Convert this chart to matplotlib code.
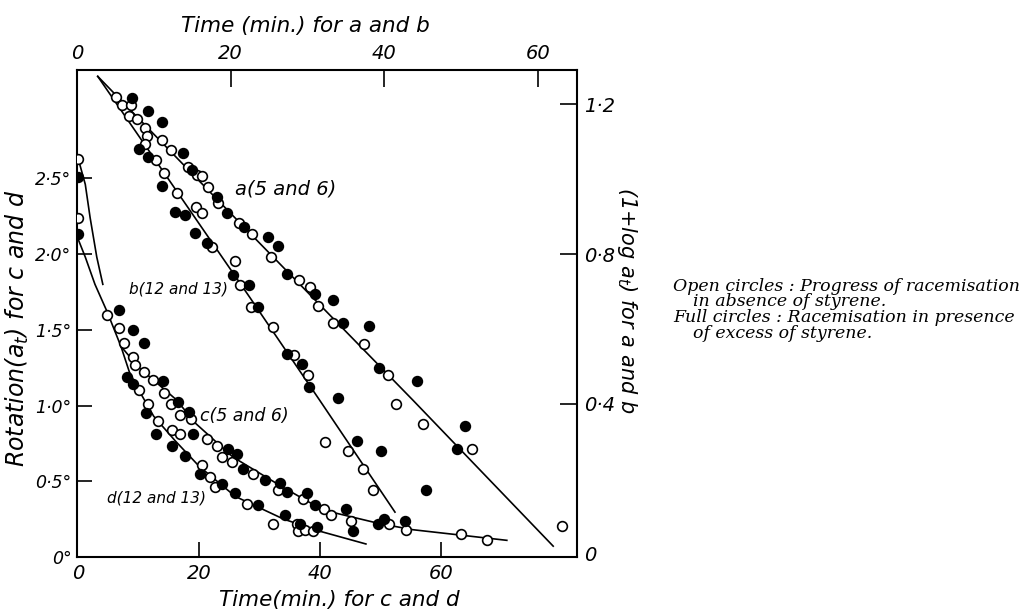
import numpy as np
import matplotlib.pyplot as plt

# curves a and b: time (min) on top axis, (1 + log a_t) on right axis
a_open_t = [5.1, 5.9, 7.0, 6.8, 7.8, 8.9, 9.1, 11.1, 12.2, 14.5, 15.6, 16.3, 17.1, 18.4, 21.1, 22.8,
            25.3, 28.9, 30.3, 31.4, 33.3, 37.4, 40.5, 41.5, 45.1, 51.4, 63.2]
a_open_v = [1.219, 1.198, 1.198, 1.168, 1.160, 1.136, 1.115, 1.104, 1.078, 1.032, 1.011, 1.008, 0.979, 0.936, 0.882, 0.853,
            0.791, 0.730, 0.711, 0.660, 0.615, 0.559, 0.476, 0.398, 0.345, 0.278, 0.072]
a_full_t = [7.2, 9.2, 11.1, 13.8, 15.0, 18.2, 19.5, 21.7, 24.9, 26.2, 27.3, 31.0, 33.3, 34.6, 38.0, 39.3,
            44.3, 50.5, 49.5]
a_full_v = [1.217, 1.182, 1.152, 1.070, 1.024, 0.952, 0.909, 0.872, 0.845, 0.821, 0.746, 0.693, 0.676, 0.615, 0.607, 0.495,
            0.460, 0.340, 0.278]
b_open_t = [8.9, 10.3, 11.3, 13.0, 15.5, 16.3, 17.6, 20.6, 21.2, 22.7, 25.5, 28.3, 30.1, 32.3, 35.3, 37.2, 38.5]
b_open_v = [1.094, 1.051, 1.016, 0.963, 0.925, 0.909, 0.818, 0.781, 0.717, 0.658, 0.604, 0.529, 0.476, 0.297, 0.273,
            0.225, 0.168]
b_full_t = [8.1, 9.2, 11.1, 12.8, 14.1, 15.4, 16.9, 20.3, 22.4, 23.6, 27.3, 29.3, 30.2, 34.0, 36.5, 39.6, 45.4]
b_full_v = [1.080, 1.059, 0.981, 0.912, 0.904, 0.856, 0.829, 0.743, 0.717, 0.658, 0.532, 0.505, 0.444, 0.414, 0.299,
            0.273, 0.168]
a_line_t = [2.7, 22.5, 43.75, 62.0]
a_line_v = [1.275, 0.856, 0.409, 0.019]
b_line_t = [2.7, 9.1, 22.5, 31.6, 41.4]
b_line_v = [1.275, 1.084, 0.684, 0.409, 0.110]

# curves c and d: time (min) on bottom axis, rotation on left axis
c_open_t = [0, 9.1, 9.4, 10.9, 12.4, 14.2, 15.4, 16.9, 18.7, 21.3, 23.0, 23.8, 25.5, 28.9, 33.1, 37.2,
            40.7, 41.8, 45.1, 51.4, 54.2, 63.3, 67.6]
c_open_r = [2.63, 1.32, 1.27, 1.22, 1.17, 1.08, 1.01, 0.94, 0.91, 0.78, 0.73, 0.66, 0.63, 0.55, 0.44, 0.38,
            0.32, 0.28, 0.24, 0.22, 0.18, 0.15, 0.11]
c_full_t = [0, 6.8, 9.1, 10.9, 14.0, 16.5, 18.3, 19.0, 24.8, 26.3, 27.3, 30.9, 33.4, 34.5, 37.9, 39.2,
            44.3, 49.6, 50.6, 54.0]
c_full_r = [2.51, 1.63, 1.50, 1.41, 1.16, 1.02, 0.96, 0.81, 0.71, 0.68, 0.58, 0.51, 0.49, 0.43, 0.42, 0.34,
            0.32, 0.22, 0.25, 0.24]
d_open_t = [0, 4.8, 6.8, 7.6, 10.1, 11.6, 13.2, 15.5, 16.9, 20.5, 21.8, 22.6, 27.9, 32.2, 36.2, 36.4, 37.5, 38.8]
d_open_r = [2.24, 1.60, 1.51, 1.41, 1.10, 1.01, 0.90, 0.84, 0.81, 0.61, 0.53, 0.46, 0.35, 0.22, 0.22, 0.17, 0.18, 0.17]
d_full_t = [0, 8.1, 9.1, 11.2, 12.9, 15.5, 17.7, 20.2, 23.8, 25.9, 29.8, 34.2, 36.7, 39.5, 45.5]
d_full_r = [2.13, 1.19, 1.14, 0.95, 0.81, 0.73, 0.67, 0.55, 0.48, 0.42, 0.34, 0.28, 0.22, 0.20, 0.17]
c0_line_t = [0.3, 1.2, 2.0, 3.1, 4.1]
c0_line_r = [2.59, 2.46, 2.24, 1.98, 1.80]
cd_line_t = [0, 1.2, 2.8, 4.8, 6.3, 7.1]
cd_line_r = [2.10, 1.98, 1.80, 1.62, 1.47, 1.39]
c_line_t = [7.1, 10.1, 16.2, 19.5, 25.6, 33.9, 40.5, 49.9, 55.4, 70.9]
c_line_r = [1.39, 1.25, 1.04, 0.88, 0.66, 0.46, 0.31, 0.22, 0.18, 0.11]
d_line_t = [7.1, 8.5, 10.5, 12.5, 16, 20, 26, 34, 40, 47.6]
d_line_r = [1.39, 1.22, 1.07, 0.93, 0.77, 0.60, 0.40, 0.25, 0.17, 0.086]

cd_ticks = [0, 20, 40, 60]
rot_ticks = [0, 0.5, 1.0, 1.5, 2.0, 2.5]
rot_labels = ['0°', '0·5°', '1·0°', '1·5°', '2·0°', '2·5°']
ab_ticks = [0, 20, 40, 60]
log_ticks = [0, 0.4, 0.8, 1.2]
log_labels = ['0', '0·4', '0·8', '1·2']

hand = dict(family='DejaVu Sans', style='italic')
openm = dict(ls='none', marker='o', ms=7, mfc='white', mec='black', mew=1.2, zorder=3)
fullm = dict(ls='none', marker='o', ms=7, mfc='black', mec='black', mew=1.2, zorder=3)

W, H = 1035, 616
fig = plt.figure(figsize=(W / 100, H / 100), dpi=100)
rect = [77 / W, 1 - 557 / H, 500 / W, 487 / H]

# bottom / left axes for c and d
ax = fig.add_axes(rect)
ax.plot(c0_line_t, c0_line_r, 'k-', lw=1.2)
ax.plot(cd_line_t, cd_line_r, 'k-', lw=1.2)
ax.plot(c_line_t, c_line_r, 'k-', lw=1.2)
ax.plot(d_line_t, d_line_r, 'k-', lw=1.2)
ax.plot(c_open_t, c_open_r, **openm)
ax.plot(c_full_t, c_full_r, **fullm)
ax.plot(d_open_t, d_open_r, **openm)
ax.plot(d_full_t, d_full_r, **fullm)
ax.set_xlim(-0.17, 82.5)
ax.set_ylim(0, 3.215)
ax.set_xticks(cd_ticks)
ax.set_xticklabels([str(v) for v in cd_ticks], **hand)
ax.set_yticks(rot_ticks)
ax.set_yticklabels(rot_labels, **hand)
ax.tick_params(direction='in', length=11, width=1.2, labelsize=14, pad=5)
ax.tick_params(axis='y', labelsize=12.5, pad=4)
ax.xaxis.get_major_ticks()[0].tick1line.set_visible(False)
ax.yaxis.get_major_ticks()[0].tick1line.set_visible(False)
for sp in ax.spines.values():
    sp.set_linewidth(1.5)
ax.text(20.2, 0.93, 'c(5 and 6)', fontsize=12.5, va='center', **hand)
ax.text(4.8, 0.39, 'd(12 and 13)', fontsize=11, va='center', **hand)

# top / right axes for a and b
ax2 = fig.add_axes(rect, frameon=False)
ax2.patch.set_visible(False)
ax2.plot(a_line_t, a_line_v, 'k-', lw=1.2)
ax2.plot(b_line_t, b_line_v, 'k-', lw=1.2)
ax2.plot(a_open_t, a_open_v, **openm)
ax2.plot(a_full_t, a_full_v, **fullm)
ax2.plot(b_open_t, b_open_v, **openm)
ax2.plot(b_full_t, b_full_v, **fullm)
ax2.set_xlim(0, 65.1)
ax2.set_ylim(-0.01, 1.292)
ax2.xaxis.tick_top()
ax2.yaxis.tick_right()
ax2.set_xticks(ab_ticks)
ax2.set_xticklabels([str(v) for v in ab_ticks], **hand)
ax2.set_yticks(log_ticks)
ax2.set_yticklabels(log_labels, **hand)
ax2.tick_params(direction='in', length=12, width=1.2, labelsize=14, pad=5)
ax2.xaxis.get_major_ticks()[0].tick2line.set_visible(False)
ax2.yaxis.get_major_ticks()[0].tick2line.set_visible(False)
ax2.text(20.6, 0.973, 'a(5 and 6)', fontsize=14, va='center', **hand)
ax2.text(6.8, 0.706, 'b(12 and 13)', fontsize=11, va='center', **hand)

# axis titles
fig.text(305 / W, 1 - 26 / H, 'Time (min.) for a and b', fontsize=15.5, ha='center', va='center', **hand)
fig.text(339 / W, 1 - 600 / H, 'Time(min.) for c and d', fontsize=15.5, ha='center', va='center', **hand)
fig.text(17 / W, 1 - 328 / H, 'Rotation(a$_t$) for c and d', fontsize=17, rotation=90,
         ha='center', va='center', **hand)
fig.text(627 / W, 1 - 300 / H, '(1+log a$_t$) for a and b', fontsize=15, rotation=270,
         ha='center', va='center', **hand)

# key
serif = dict(family='DejaVu Serif', style='italic', fontsize=12.5, va='center')
fig.text(673 / W, 1 - 287 / H, 'Open circles : Progress of racemisation', **serif)
fig.text(693 / W, 1 - 302 / H, 'in absence of styrene.', **serif)
fig.text(673 / W, 1 - 318 / H, 'Full circles : Racemisation in presence', **serif)
fig.text(693 / W, 1 - 333 / H, 'of excess of styrene.', **serif)

fig.savefig('out.png', dpi=100)
